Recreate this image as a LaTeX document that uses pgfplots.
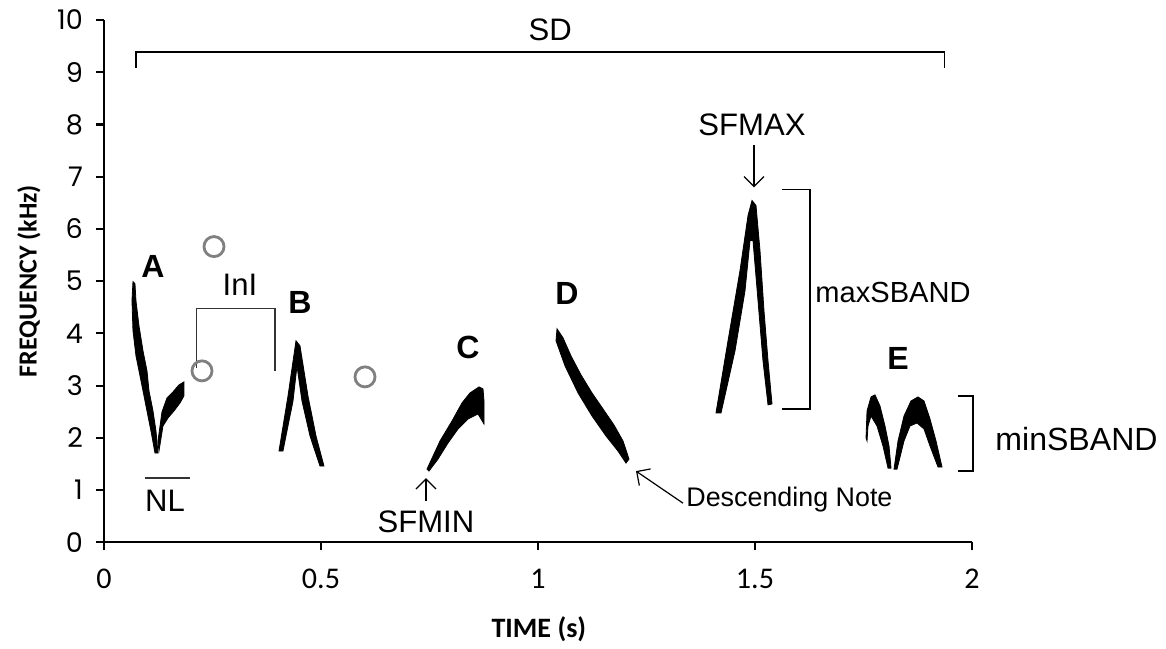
\documentclass[border=0pt]{standalone}
\usepackage{fontspec}
\setmainfont{Liberation Sans}
\newfontfamily\calibri{Carlito}
\newfontfamily\gothic{Poppins}
\usepackage{pgfplots}
\pgfplotsset{compat=1.18}
\usetikzlibrary{arrows.meta}

\begin{document}
\begin{tikzpicture}
\begin{axis}[
  scale only axis, width=433pt, height=260.5pt,
  xmin=0, xmax=2, ymin=0, ymax=10,
  axis x line*=bottom, axis y line*=left,
  axis line style={line width=1pt},
  tick align=outside, major tick length=4pt,
  tick style={line width=1pt, black},
  xtick={0,0.5,1,1.5,2}, xticklabels={0,0.5,1,1.5,2},
  ytick={0,1,...,10},
  /pgf/number format/assume math mode=true,
  xticklabel style={font=\calibri\fontsize{15}{17}\selectfont, yshift=-6pt},
  yticklabel style={font=\gothic\fontsize{13.5}{15}\selectfont, xshift=-3pt},
  xlabel={TIME (s)}, ylabel={FREQUENCY (kHz)},
  xlabel style={font=\calibri\bfseries\fontsize{14}{16}\selectfont, at={(axis description cs:0.501,-0.167)}, anchor=center},
  ylabel style={font=\calibri\bfseries\fontsize{13}{15}\selectfont, at={(axis description cs:-0.0866,0.5)}, anchor=center},
  clip=false,
]
% page frame
\path (axis cs:-0.2396,-2.015) rectangle (axis cs:2.447,10.384);

% note A, falling stroke
\addplot[fill=black, draw=black, line width=0.4pt] coordinates {
 (0.0668,4.990) (0.0645,4.626) (0.0668,4.050) (0.0737,3.570) (0.0853,3.090)
 (0.0968,2.610) (0.1083,2.131) (0.1175,1.708) (0.1244,1.708) (0.1198,2.131)
 (0.1129,2.514) (0.1037,2.898) (0.0991,3.282) (0.0899,3.666) (0.0806,4.146)
 (0.0737,4.626) (0.0714,4.952)} -- cycle;
% note A, rising part
\addplot[fill=black, draw=black, line width=0.4pt] coordinates {
 (0.1267,1.747) (0.1359,2.226) (0.1475,2.380) (0.1613,2.515) (0.1751,2.668)
 (0.1843,2.803) (0.1843,3.071) (0.1728,3.014) (0.1590,2.880) (0.1452,2.765)
 (0.1336,2.496) (0.1244,1.939)} -- cycle;
% note B
\addplot[fill=black, draw=black, line width=0.4pt] coordinates {
 (0.4032,1.747) (0.4240,2.802) (0.4424,3.858) (0.4516,3.762) (0.4700,2.802)
 (0.4885,2.035) (0.5069,1.459) (0.4977,1.459) (0.4747,2.035) (0.4562,2.706)
 (0.4447,3.378) (0.4355,2.706) (0.4124,1.747)} -- cycle;
% note C
\addplot[fill=black, draw=black, line width=0.4pt] coordinates {
 (0.7442,1.401) (0.7742,1.939) (0.8018,2.322) (0.8249,2.668) (0.8433,2.860)
 (0.8641,2.975) (0.8733,2.937) (0.8756,2.706) (0.8756,2.265) (0.8618,2.457)
 (0.8387,2.361) (0.8157,2.169) (0.7926,1.900) (0.7696,1.593) (0.7488,1.363)} -- cycle;
% note D
\addplot[fill=black, draw=black, line width=0.4pt] coordinates {
 (1.0438,4.088) (1.0415,3.858) (1.0622,3.378) (1.0922,2.860) (1.1244,2.418)
 (1.1567,2.035) (1.1843,1.747) (1.2028,1.516) (1.2097,1.593) (1.1959,1.939)
 (1.1751,2.246) (1.1498,2.553) (1.1244,2.860) (1.0991,3.205) (1.0760,3.570)
 (1.0576,3.916)} -- cycle;
% tall note (SFMAX)
\addplot[fill=black, draw=black, line width=0.4pt] coordinates {
 (1.4101,2.476) (1.4378,3.858) (1.4654,5.202) (1.4839,6.257) (1.4931,6.545)
 (1.5023,6.449) (1.5115,5.585) (1.5207,4.434) (1.5300,3.474) (1.5392,2.649)
 (1.5300,2.630) (1.5184,3.474) (1.5069,4.626) (1.4954,5.777) (1.4885,5.777)
 (1.4770,4.818) (1.4539,3.666) (1.4217,2.476)} -- cycle;
% note E, first hump
\addplot[fill=black, draw=black, line width=0.4pt] coordinates {
 (1.7558,1.996) (1.7581,2.514) (1.7673,2.783) (1.7765,2.822) (1.7880,2.610)
 (1.7995,2.226) (1.8088,1.843) (1.8134,1.420) (1.8065,1.420) (1.7949,1.843)
 (1.7811,2.226) (1.7673,2.418) (1.7604,2.226) (1.7581,1.939)} -- cycle;
% note E, second hump
\addplot[fill=black, draw=black, line width=0.4pt] coordinates {
 (1.8203,1.401) (1.8295,1.939) (1.8433,2.418) (1.8594,2.706) (1.8756,2.783)
 (1.8894,2.706) (1.9032,2.361) (1.9171,1.939) (1.9309,1.440) (1.9217,1.440)
 (1.9032,1.843) (1.8894,2.169) (1.8733,2.284) (1.8571,2.226) (1.8433,1.939)
 (1.8272,1.401)} -- cycle;

% grey circles
\addplot[only marks, mark=o, mark size=5pt, draw=gray, mark options={line width=1.4pt}]
 coordinates {(0.2535,5.662) (0.2258,3.282) (0.6014,3.167)};

% note letters
\begin{scope}[font=\bfseries\fontsize{16}{18}\selectfont]
\node at (axis cs:0.1129,5.278) {A};
\node at (axis cs:0.4516,4.587) {B};
\node at (axis cs:0.8387,3.724) {C};
\node at (axis cs:1.0668,4.760) {D};
\node at (axis cs:1.8295,3.512) {E};
\end{scope}

% annotations
\begin{scope}[font=\fontsize{15.5}{18}\selectfont]
\draw[line width=0.7pt] (axis cs:0.0737,9.08) -- (axis cs:0.0737,9.386) -- (axis cs:1.936,9.386) -- (axis cs:1.936,9.08);
\node at (axis cs:1.028,9.81) {SD};
\draw[line width=0.7pt, black!80] (axis cs:0.2136,3.340) -- (axis cs:0.2136,4.472) -- (axis cs:0.3940,4.472) -- (axis cs:0.3940,3.282);
\node at (axis cs:0.3134,4.933) {InI};
\draw[line width=0.7pt, black!80] (axis cs:0.0945,1.234) -- (axis cs:0.1982,1.234);
\node at (axis cs:0.1406,0.787) {NL};
\draw[line width=0.6pt, -{Straight Barb[length=5pt,width=10pt]}] (axis cs:0.7419,0.787) -- (axis cs:0.7419,1.228);
\node at (axis cs:0.7419,0.384) {SFMIN};
\draw[line width=0.6pt, -{Straight Barb[length=5pt,width=10pt]}] (axis cs:1.3341,0.749) -- (axis cs:1.2258,1.363);
\node[anchor=west, inner sep=0pt, font=\fontsize{13.4}{16}\selectfont] at (axis cs:1.341,0.825) {Descending Note};
\draw[line width=0.6pt, -{Straight Barb[length=5pt,width=10pt]}] (axis cs:1.4977,7.601) -- (axis cs:1.4977,6.795);
\node at (axis cs:1.4931,7.985) {SFMAX};
\draw[line width=0.7pt] (axis cs:1.5622,6.756) -- (axis cs:1.6267,6.756) -- (axis cs:1.6267,2.553) -- (axis cs:1.5622,2.553);
\node[font=\fontsize{14.5}{17}\selectfont] at (axis cs:1.818,4.779) {maxSBAND};
\draw[line width=0.7pt] (axis cs:1.9677,2.802) -- (axis cs:2.0023,2.802) -- (axis cs:2.0023,1.363) -- (axis cs:1.9677,1.363);
\node[anchor=west, inner sep=0pt, font=\fontsize{16}{18}\selectfont] at (axis cs:2.053,1.977) {minSBAND};
\end{scope}
\end{axis}
\end{tikzpicture}
\end{document}
